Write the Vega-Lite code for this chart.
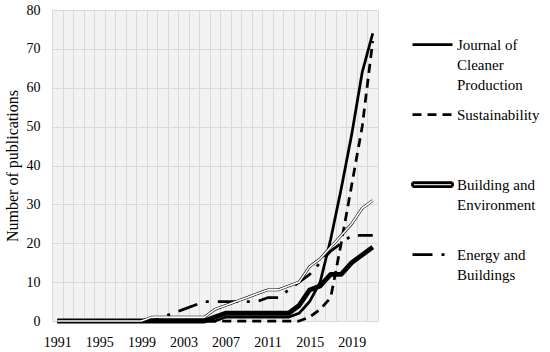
{
"$schema": "https://vega.github.io/schema/vega-lite/v6.json",
"width": 326, "height": 311,
"autosize": "none",
"padding": {"left": 52, "top": 10, "right": 172, "bottom": 31},
"background": "white",
"config": {"view": {"fill": "#f2f2f2", "stroke": null}, "font": "'Liberation Serif', 'DejaVu Serif', serif"},
"data": {"values": [
{"year":1991,"series":"JCP","value":0},{"year":1991,"series":"SUS","value":0},{"year":1991,"series":"BE","value":0},{"year":1991,"series":"EB","value":0},{"year":1991,"series":"OTH","value":0},
{"year":1992,"series":"JCP","value":0},{"year":1992,"series":"SUS","value":0},{"year":1992,"series":"BE","value":0},{"year":1992,"series":"EB","value":0},{"year":1992,"series":"OTH","value":0},
{"year":1993,"series":"JCP","value":0},{"year":1993,"series":"SUS","value":0},{"year":1993,"series":"BE","value":0},{"year":1993,"series":"EB","value":0},{"year":1993,"series":"OTH","value":0},
{"year":1994,"series":"JCP","value":0},{"year":1994,"series":"SUS","value":0},{"year":1994,"series":"BE","value":0},{"year":1994,"series":"EB","value":0},{"year":1994,"series":"OTH","value":0},
{"year":1995,"series":"JCP","value":0},{"year":1995,"series":"SUS","value":0},{"year":1995,"series":"BE","value":0},{"year":1995,"series":"EB","value":0},{"year":1995,"series":"OTH","value":0},
{"year":1996,"series":"JCP","value":0},{"year":1996,"series":"SUS","value":0},{"year":1996,"series":"BE","value":0},{"year":1996,"series":"EB","value":0},{"year":1996,"series":"OTH","value":0},
{"year":1997,"series":"JCP","value":0},{"year":1997,"series":"SUS","value":0},{"year":1997,"series":"BE","value":0},{"year":1997,"series":"EB","value":0},{"year":1997,"series":"OTH","value":0},
{"year":1998,"series":"JCP","value":0},{"year":1998,"series":"SUS","value":0},{"year":1998,"series":"BE","value":0},{"year":1998,"series":"EB","value":0},{"year":1998,"series":"OTH","value":0},
{"year":1999,"series":"JCP","value":0},{"year":1999,"series":"SUS","value":0},{"year":1999,"series":"BE","value":0},{"year":1999,"series":"EB","value":0},{"year":1999,"series":"OTH","value":0},
{"year":2000,"series":"JCP","value":0},{"year":2000,"series":"SUS","value":0},{"year":2000,"series":"BE","value":1},{"year":2000,"series":"EB","value":0},{"year":2000,"series":"OTH","value":0},
{"year":2001,"series":"JCP","value":0},{"year":2001,"series":"SUS","value":0},{"year":2001,"series":"BE","value":1},{"year":2001,"series":"EB","value":1},{"year":2001,"series":"OTH","value":0},
{"year":2002,"series":"JCP","value":0},{"year":2002,"series":"SUS","value":0},{"year":2002,"series":"BE","value":1},{"year":2002,"series":"EB","value":2},{"year":2002,"series":"OTH","value":0},
{"year":2003,"series":"JCP","value":0},{"year":2003,"series":"SUS","value":0},{"year":2003,"series":"BE","value":1},{"year":2003,"series":"EB","value":3},{"year":2003,"series":"OTH","value":0},
{"year":2004,"series":"JCP","value":0},{"year":2004,"series":"SUS","value":0},{"year":2004,"series":"BE","value":1},{"year":2004,"series":"EB","value":4},{"year":2004,"series":"OTH","value":0},
{"year":2005,"series":"JCP","value":0},{"year":2005,"series":"SUS","value":0},{"year":2005,"series":"BE","value":1},{"year":2005,"series":"EB","value":5},{"year":2005,"series":"OTH","value":0},
{"year":2006,"series":"JCP","value":0},{"year":2006,"series":"SUS","value":0},{"year":2006,"series":"BE","value":3},{"year":2006,"series":"EB","value":5},{"year":2006,"series":"OTH","value":1},
{"year":2007,"series":"JCP","value":1},{"year":2007,"series":"SUS","value":0},{"year":2007,"series":"BE","value":4},{"year":2007,"series":"EB","value":5},{"year":2007,"series":"OTH","value":2},
{"year":2008,"series":"JCP","value":1},{"year":2008,"series":"SUS","value":0},{"year":2008,"series":"BE","value":5},{"year":2008,"series":"EB","value":5},{"year":2008,"series":"OTH","value":2},
{"year":2009,"series":"JCP","value":1},{"year":2009,"series":"SUS","value":0},{"year":2009,"series":"BE","value":6},{"year":2009,"series":"EB","value":5},{"year":2009,"series":"OTH","value":2},
{"year":2010,"series":"JCP","value":1},{"year":2010,"series":"SUS","value":0},{"year":2010,"series":"BE","value":7},{"year":2010,"series":"EB","value":5},{"year":2010,"series":"OTH","value":2},
{"year":2011,"series":"JCP","value":1},{"year":2011,"series":"SUS","value":0},{"year":2011,"series":"BE","value":8},{"year":2011,"series":"EB","value":6},{"year":2011,"series":"OTH","value":2},
{"year":2012,"series":"JCP","value":1},{"year":2012,"series":"SUS","value":0},{"year":2012,"series":"BE","value":8},{"year":2012,"series":"EB","value":6},{"year":2012,"series":"OTH","value":2},
{"year":2013,"series":"JCP","value":1},{"year":2013,"series":"SUS","value":0},{"year":2013,"series":"BE","value":9},{"year":2013,"series":"EB","value":8},{"year":2013,"series":"OTH","value":2},
{"year":2014,"series":"JCP","value":2},{"year":2014,"series":"SUS","value":0},{"year":2014,"series":"BE","value":10},{"year":2014,"series":"EB","value":10},{"year":2014,"series":"OTH","value":4},
{"year":2015,"series":"JCP","value":5},{"year":2015,"series":"SUS","value":1},{"year":2015,"series":"BE","value":14},{"year":2015,"series":"EB","value":12},{"year":2015,"series":"OTH","value":8},
{"year":2016,"series":"JCP","value":10},{"year":2016,"series":"SUS","value":3},{"year":2016,"series":"BE","value":16},{"year":2016,"series":"EB","value":15},{"year":2016,"series":"OTH","value":9},
{"year":2017,"series":"JCP","value":21},{"year":2017,"series":"SUS","value":6},{"year":2017,"series":"BE","value":19},{"year":2017,"series":"EB","value":18},{"year":2017,"series":"OTH","value":12},
{"year":2018,"series":"JCP","value":34},{"year":2018,"series":"SUS","value":20},{"year":2018,"series":"BE","value":22},{"year":2018,"series":"EB","value":20},{"year":2018,"series":"OTH","value":12},
{"year":2019,"series":"JCP","value":48},{"year":2019,"series":"SUS","value":35},{"year":2019,"series":"BE","value":25},{"year":2019,"series":"EB","value":22},{"year":2019,"series":"OTH","value":15},
{"year":2020,"series":"JCP","value":64},{"year":2020,"series":"SUS","value":50},{"year":2020,"series":"BE","value":29},{"year":2020,"series":"EB","value":22},{"year":2020,"series":"OTH","value":17},
{"year":2021,"series":"JCP","value":74},{"year":2021,"series":"SUS","value":72},{"year":2021,"series":"BE","value":31},{"year":2021,"series":"EB","value":22},{"year":2021,"series":"OTH","value":19}
]},
"encoding": {
  "x": {"field": "year", "type": "quantitative",
    "scale": {"domain": [1990.5, 2021.5], "nice": false, "zero": false},
    "axis": {"title": null, "values": [1990.5,1991.5,1992.5,1993.5,1994.5,1995.5,1996.5,1997.5,1998.5,1999.5,2000.5,2001.5,2002.5,2003.5,2004.5,2005.5,2006.5,2007.5,2008.5,2009.5,2010.5,2011.5,2012.5,2013.5,2014.5,2015.5,2016.5,2017.5,2018.5,2019.5,2020.5,2021.5],
      "labelExpr": "(datum.value + 0.5 - 1991) % 4 == 0 ? format(datum.value + 0.5, 'd') : ''",
      "labelOffset": 5.26, "labelFlush": false, "labelOverlap": false, "labelBound": false,
      "grid": true, "gridColor": "#d9d9d9", "gridWidth": 1, "ticks": false, "domain": false,
      "labelPadding": 14, "labelFont": "'Liberation Serif', 'DejaVu Serif', serif", "labelFontSize": 14, "labelColor": "black"}},
  "y": {"field": "value", "type": "quantitative",
    "scale": {"domain": [0, 80], "nice": false},
    "axis": {"title": "Number of publications", "values": [0,10,20,30,40,50,60,70,80],
      "grid": true, "gridColor": "#d9d9d9", "gridWidth": 1, "ticks": false, "domain": false,
      "labelPadding": 12, "labelFont": "'Liberation Serif', 'DejaVu Serif', serif", "labelFontSize": 14, "labelColor": "black",
      "titleFont": "'Liberation Serif', 'DejaVu Serif', serif", "titleFontSize": 16, "titleFontWeight": "normal", "titleColor": "black", "titlePadding": 6}}
},
"layer": [
  {"transform": [{"filter": "datum.series == 'OTH'"}],
   "mark": {"type": "line", "color": "black", "strokeWidth": 4.8, "strokeJoin": "round"},
   "encoding": {}},
  {"transform": [{"filter": "datum.series != 'OTH'"}],
   "mark": {"type": "line", "color": "black", "strokeJoin": "round", "strokeCap": "butt"},
   "encoding": {
     "strokeDash": {"field": "series", "type": "nominal",
       "scale": {"domain": ["JCP", "SUS", "BE", "EB"], "range": [[1, 0], [9, 6], [1, 0], [20, 9, 3, 9]]},
       "legend": {"title": null, "orient": "right", "offset": 20, "padding": 13,
         "symbolType": "stroke", "symbolSize": 1600, "symbolStrokeColor": "black",
         "labelFont": "'Liberation Serif', 'DejaVu Serif', serif", "labelFontSize": 15, "labelColor": "black", "labelLimit": 0,
         "labelOffset": 3, "rowPadding": 0,
         "labelExpr": "datum.label == 'JCP' ? ['Journal of','Cleaner','Production'] : datum.label == 'SUS' ? ['Sustainability','',''] : datum.label == 'BE' ? ['Building and','Environment',''] : ['Energy and','Buildings','']",
         "encode": {
           "symbols": {"update": {
             "shape": {"signal": "datum.value == 'BE' ? 'M-1,-0.1H1V0.1H-1Z' : 'stroke'"},
             "fill": {"signal": "datum.value == 'BE' ? '#d4d4d4' : 'transparent'"},
             "stroke": {"value": "black"},
             "strokeWidth": {"signal": "datum.value == 'BE' ? 1.1 : datum.value == 'EB' ? 4 : 2.75"}}},
           "labels": {"update": {"lineHeight": {"value": 20}}}}}},
     "strokeWidth": {"field": "series", "type": "nominal",
       "scale": {"domain": ["JCP", "SUS", "BE", "EB"], "range": [2.75, 2.75, 4.8, 4]},
       "legend": null}
   }},
  {"transform": [{"filter": "datum.series == 'BE'"}],
   "mark": {"type": "line", "color": "white", "strokeWidth": 1.6, "strokeJoin": "round"},
   "encoding": {}}
]
}
